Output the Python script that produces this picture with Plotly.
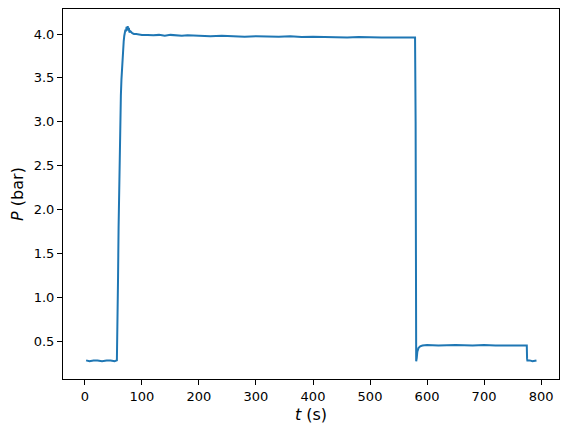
import plotly.graph_objects as go

# pressure trace (t in s, P in bar)
t_base = [2, 8, 15, 22, 30, 38, 45, 52, 56]
p_base = [0.28, 0.27, 0.28, 0.28, 0.27, 0.28, 0.28, 0.27, 0.28]

t_rise = [57, 58, 59, 60, 61, 62, 63, 64, 65, 66, 67, 68, 69, 70, 71, 72, 73, 74, 75, 76, 77, 78, 80, 83, 86]
p_rise = [0.6, 1.2, 1.8, 2.3, 2.75, 3.05, 3.3, 3.48, 3.62, 3.74, 3.84, 3.92, 3.98, 4.02, 4.05, 4.03, 4.08, 4.05, 4.09, 4.04, 4.07, 4.02, 4.03, 4.01, 4.0]

t_high = [90, 100, 110, 120, 130, 140, 150, 160, 170, 180, 190, 200, 220, 240, 260, 280, 300,
          320, 340, 360, 380, 400, 420, 440, 460, 480, 500, 520, 540, 560, 579]
p_high = [4.0, 3.99, 3.99, 3.985, 3.99, 3.98, 3.99, 3.985, 3.98, 3.985, 3.98, 3.98, 3.975, 3.98, 3.975, 3.97,
          3.975, 3.97, 3.97, 3.975, 3.965, 3.97, 3.965, 3.965, 3.96, 3.965, 3.96, 3.96, 3.96, 3.96, 3.96]

t_drop = [580, 580.5, 581, 582, 583, 585, 588, 592, 600]
p_drop = [3.0, 0.5, 0.27, 0.31, 0.38, 0.42, 0.44, 0.45, 0.455]

t_low = [620, 650, 680, 700, 720, 740, 760, 775]
p_low = [0.45, 0.455, 0.45, 0.455, 0.45, 0.45, 0.455, 0.45]

t_end = [775.5, 776, 780, 785, 792]
p_end = [0.3, 0.28, 0.28, 0.27, 0.28]

t = t_base + t_rise + t_high + t_drop + t_low + t_end
p = p_base + p_rise + p_high + p_drop + p_low + p_end

fig = go.Figure()
fig.add_trace(go.Scatter(x=t, y=p, mode='lines',
                         line=dict(color='#1f77b4', width=2)))

axis_style = dict(showline=True, mirror=True, linecolor='black', linewidth=1,
                  ticks='outside', ticklen=5, tickwidth=1, tickcolor='black',
                  showgrid=False, zeroline=False, automargin=False,
                  tickfont=dict(family='DejaVu Sans', size=13, color='black'))

# page body adds an 8px margin, so the figure is sized to fit inside it
fig.update_layout(
    width=553, height=418,
    margin=dict(l=55, r=2, t=1, b=47),
    paper_bgcolor='white', plot_bgcolor='white',
    showlegend=False,
    font=dict(family='DejaVu Sans', size=13, color='black'),
    xaxis=dict(range=[-38.5, 831.5], tickmode='array',
               tickvals=[0, 100, 200, 300, 400, 500, 600, 700, 800],
               title=dict(text='<i>t</i> (s)', standoff=6), **axis_style),
    yaxis=dict(range=[0.068, 4.285], tickmode='array',
               tickvals=[0.5, 1.0, 1.5, 2.0, 2.5, 3.0, 3.5, 4.0], tickformat='.1f',
               title=dict(text='<i>P</i> (bar)', standoff=8), **axis_style),
)

fig.write_html("out.html")
